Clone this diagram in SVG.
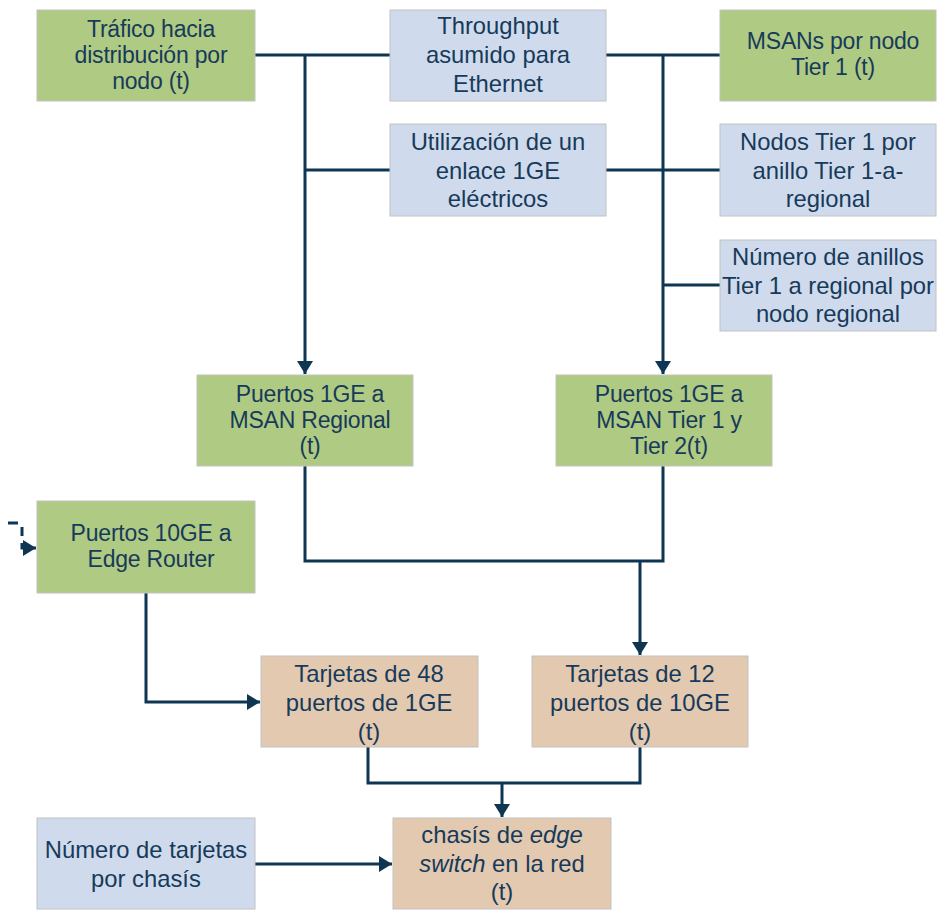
<svg xmlns="http://www.w3.org/2000/svg" width="941" height="910" viewBox="0 0 941 910">
<defs>
<style>
.g{fill:#AFCA82;stroke:#C2C2C2;stroke-width:1}
.b{fill:#CFDBEC;stroke:#C2C2C2;stroke-width:1}
.t{fill:#E2C9B0;stroke:#C2C2C2;stroke-width:1}
text{font-family:"Liberation Sans",Arial,sans-serif;font-size:23.8px;fill:#173A5A;text-anchor:middle}
text.k{font-size:23px;letter-spacing:-0.2px}
.c{fill:none;stroke:#0E3552;stroke-width:3}
</style>
<marker id="ah" markerUnits="userSpaceOnUse" markerWidth="13" markerHeight="16" viewBox="0 0 13 16" refX="13" refY="8" orient="auto">
<path d="M0,0 L13,8 L0,16 Z" fill="#0E3552"/>
</marker>
</defs>
<rect width="941" height="910" fill="#FFFFFF"/>
<g id="connectors">
<path class="c" d="M255,55 H390"/>
<path class="c" d="M606,55 H720"/>
<path class="c" d="M305,55 V374" marker-end="url(#ah)"/>
<path class="c" d="M305,170 H390"/>
<path class="c" d="M663,55 V374" marker-end="url(#ah)"/>
<path class="c" d="M606,170 H720"/>
<path class="c" d="M663,285 H720"/>
<path class="c" d="M305,466 V561 H663 V466"/>
<path class="c" d="M640,561 V655" marker-end="url(#ah)"/>
<path class="c" d="M146,593 V702 H260" marker-end="url(#ah)"/>
<path class="c" d="M368,747 V783 H640 V747"/>
<path class="c" d="M502,783 V817" marker-end="url(#ah)"/>
<path class="c" d="M255,864 H392" marker-end="url(#ah)"/>
<path class="c" d="M8,523 H18"/>
<path class="c" d="M22,527 V536"/>
<path class="c" d="M22,543 V548 H36" marker-end="url(#ah)"/>
</g>
<g id="n-trafico">
<rect class="g" x="37" y="10" width="218" height="91"/>
<text class="k" x="151"><tspan x="151" y="37">Tráfico hacia</tspan><tspan x="151" y="63">distribución por</tspan><tspan x="151" y="89">nodo (t)</tspan></text>
</g>
<g id="n-throughput">
<rect class="b" x="390" y="10" width="216" height="91"/>
<text x="498"><tspan x="498" y="34">Throughput</tspan><tspan x="498" y="63">asumido para</tspan><tspan x="498" y="92">Ethernet</tspan></text>
</g>
<g id="n-msans">
<rect class="g" x="720" y="10" width="216" height="91"/>
<text class="k" x="833"><tspan x="833" y="49">MSANs por nodo</tspan><tspan x="833" y="75">Tier 1 (t)</tspan></text>
</g>
<g id="n-utilizacion">
<rect class="b" x="390" y="124" width="216" height="92"/>
<text x="498"><tspan x="498" y="150">Utilización  de un</tspan><tspan x="498" y="179">enlace 1GE</tspan><tspan x="498" y="207">eléctricos</tspan></text>
</g>
<g id="n-nodos">
<rect class="b" x="720" y="124" width="216" height="92"/>
<text x="828"><tspan x="828" y="150">Nodos Tier 1 por</tspan><tspan x="828" y="179">anillo  Tier 1-a-</tspan><tspan x="828" y="207">regional</tspan></text>
</g>
<g id="n-anillos">
<rect class="b" x="720" y="240" width="216" height="91"/>
<text x="828"><tspan x="828" y="265">Número de anillos</tspan><tspan x="828" y="294">Tier 1 a regional por</tspan><tspan x="828" y="322">nodo regional</tspan></text>
</g>
<g id="n-puertos-regional">
<rect class="g" x="197" y="375" width="216" height="91"/>
<text class="k" x="310"><tspan x="310" y="402">Puertos 1GE a</tspan><tspan x="310" y="428">MSAN Regional</tspan><tspan x="310" y="454">(t)</tspan></text>
</g>
<g id="n-puertos-tier">
<rect class="g" x="556" y="375" width="216" height="91"/>
<text class="k" x="669"><tspan x="669" y="402">Puertos 1GE a</tspan><tspan x="669" y="428">MSAN Tier 1 y</tspan><tspan x="669" y="454">Tier 2(t)</tspan></text>
</g>
<g id="n-puertos-10ge">
<rect class="g" x="37" y="501" width="218" height="92"/>
<text class="k" x="151"><tspan x="151" y="541">Puertos 10GE a</tspan><tspan x="151" y="567">Edge Router</tspan></text>
</g>
<g id="n-tarjetas-48">
<rect class="t" x="261" y="656" width="217" height="91"/>
<text x="369"><tspan x="369" y="682">Tarjetas de 48</tspan><tspan x="369" y="711">puertos de 1GE</tspan><tspan x="369" y="740">(t)</tspan></text>
</g>
<g id="n-tarjetas-12">
<rect class="t" x="532" y="656" width="216" height="91"/>
<text x="640"><tspan x="640" y="682">Tarjetas de 12</tspan><tspan x="640" y="711">puertos de 10GE</tspan><tspan x="640" y="740">(t)</tspan></text>
</g>
<g id="n-numero-tarjetas">
<rect class="b" x="37" y="818" width="218" height="91"/>
<text x="146"><tspan x="146" y="858">Número de tarjetas</tspan><tspan x="146" y="887">por chasís</tspan></text>
</g>
<g id="n-chasis">
<rect class="t" x="393" y="818" width="218" height="91"/>
<text x="502"><tspan x="502" y="843">chasís de <tspan font-style="italic">edge</tspan></tspan><tspan x="502" y="872"><tspan font-style="italic">switch</tspan> en la red</tspan><tspan x="502" y="900">(t)</tspan></text>
</g>
</svg>
